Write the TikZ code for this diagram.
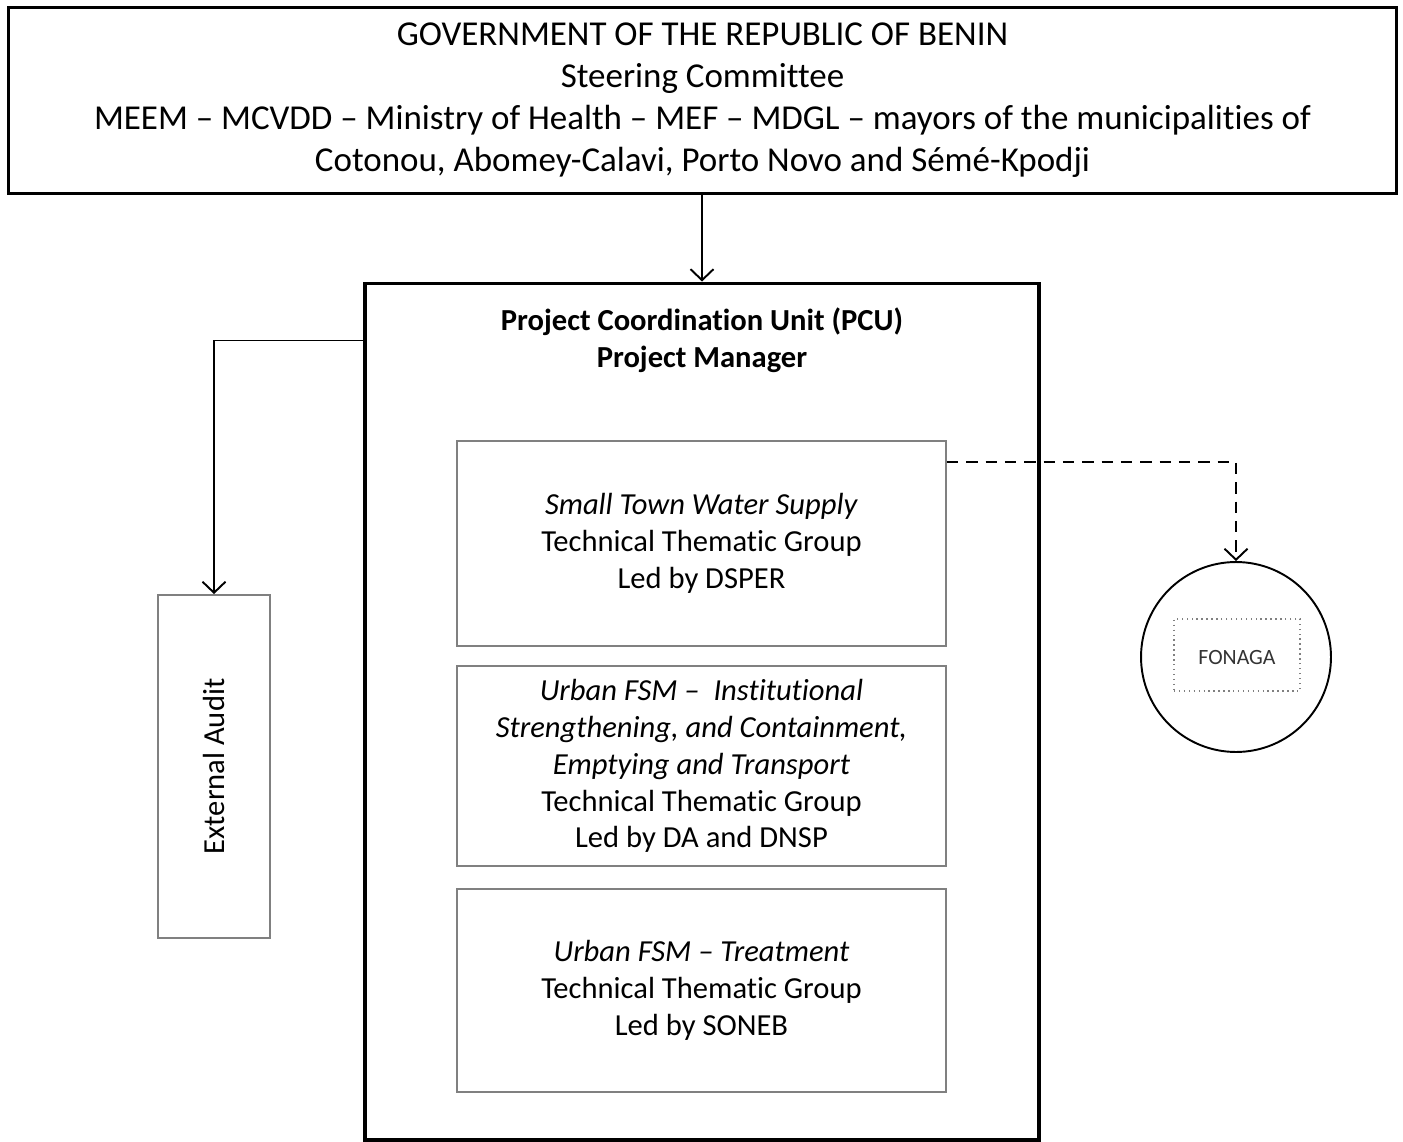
\documentclass[tikz,border=0pt]{standalone}
\usepackage{fontspec}
\setmainfont{Carlito}[Ligatures={NoCommon,NoContextual,NoRare},Contextuals=NoAlternate]
\usetikzlibrary{arrows.meta}

\begin{document}
\begin{tikzpicture}[x=0.02cm,y=-0.02cm,
    bigbox/.style={draw,line width=1.8pt,inner sep=0pt},
    groupbox/.style={draw=gray,line width=1.1pt,minimum width=9.78cm,inner sep=0pt,
      align=center,font=\fontsize{17.4}{21}\selectfont},
    link/.style={line width=1.1pt,-{Straight Barb[length=2.2mm,width=4.6mm]}}]
  \useasboundingbox (0,0) rectangle (1403,1142);
  % steering committee
  \node[bigbox,minimum width=27.78cm,minimum height=3.72cm,align=center,
    font=\fontsize{19.9}{23.9}\selectfont] (gov) at (702.5,100.5)
    {GOVERNMENT OF THE REPUBLIC OF BENIN\\
     Steering Committee\\
     MEEM – MCVDD – Ministry of Health – MEF – MDGL – mayors of the municipalities of\\
     Cotonou, Abomey-Calavi, Porto Novo and Sémé-Kpodji};
  % coordination unit
  \node[bigbox,minimum width=13.48cm,minimum height=17.14cm] (pcu) at (702,711.5) {};
  \node[align=center,font=\bfseries\fontsize{17.4}{21}\selectfont] (title) at (702,340.5)
    {Project Coordination Unit (PCU)\\ Project Manager};
  \node[groupbox,minimum height=4.1cm] (twgA) at (701.5,543.5)
    {\textit{Small Town Water Supply}\\ Technical Thematic Group\\ Led by DSPER};
  \node[groupbox,minimum height=4cm] (twgB) at (701.5,766)
    {\textit{Urban FSM – \ Institutional}\\
     \textit{Strengthening, and Containment,}\\
     \textit{Emptying and Transport}\\
     Technical Thematic Group\\ Led by DA and DNSP};
  \node[groupbox,minimum height=4.06cm] (twgC) at (701.5,990.5)
    {\textit{Urban FSM – Treatment}\\ Technical Thematic Group\\ Led by SONEB};
  % audit and fonaga
  \node[draw=gray,line width=1.1pt,minimum width=2.24cm,minimum height=6.86cm,inner sep=0pt]
    (audit) at (214,766.5) {};
  \node[rotate=90,font=\fontsize{17.4}{21}\selectfont] (auditlabel) at (audit) {External Audit};
  \node[draw,circle,line width=1.1pt,minimum size=3.8cm,inner sep=0pt] (fonaga) at (1236,657) {};
  \node[draw=gray,dotted,line width=0.8pt,minimum width=2.52cm,minimum height=1.44cm]
    (fonagatag) at (1237,655) {};
  \node[text=black!80,font=\fontsize{12.4}{15}\selectfont] (fonagalabel) at (1237,658) {FONAGA};
  % links
  \draw[link] (gov.south -| pcu.north) -- (pcu.north);
  \draw[link] (pcu.west |- title) -| (audit.north);
  \draw[link,dash pattern=on 6.5pt off 4.5pt] ([yshift=-0.44cm]twgA.north east) -| (fonaga.north);
\end{tikzpicture}
\end{document}
